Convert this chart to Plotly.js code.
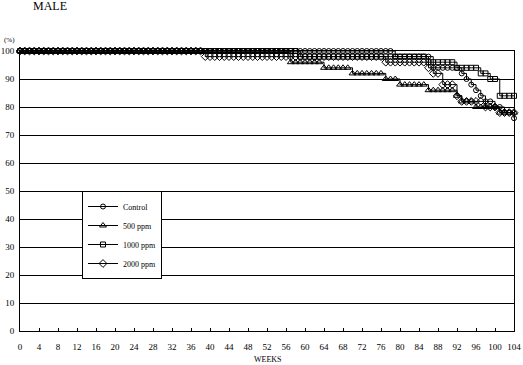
<!DOCTYPE html>
<html>
<head>
<meta charset="utf-8">
<script src="https://cdn.plot.ly/plotly-3.0.1.min.js"></script>
<style>html,body{margin:0;padding:0;background:#fff;}#chart{width:523px;height:365px;}</style>
</head>
<body>
<div id="chart"></div>
<script>
// Weeks 0..104
var weeks = [];
for (var w = 0; w <= 104; w++) weeks.push(w);

var xTickVals = [0,4,8,12,16,20,24,28,32,36,40,44,48,52,56,60,64,68,72,76,80,84,88,92,96,100,104];
var xTickText = ["0","4","8","12","16","20","24","28","32","36","40","44","48","52","56","60","64","68","72","76","80","84","88","92","96","100","104"];
var yTickVals = [0,10,20,30,40,50,60,70,80,90,100];
var seriesNames = ["Control", "500 ppm", "1000 ppm", "2000 ppm"];

// Survival (%) at each week
var control = [
 100,100,100,100,100,100,100,100,100,100, 100,100,100,100,100,100,100,100,100,100,
 100,100,100,100,100,100,100,100,100,100, 100,100,100,100,100,100,100,100,100,100,
 100,100,100,100,100,100,100,100,100,100, 100,100,100,100,100,100,100,100,100,100,
 100,100,100,100,100,100,100,100,100,100, 100,100,100,100,100,100,100,100,100,98,
 98,98,98,98,98,98,98,94,94,94, 94,94,94,92,90,88,86,84,82,82,
 80,80,78,78,76];
var ppm500 = [
 100,100,100,100,100,100,100,100,100,100, 100,100,100,100,100,100,100,100,100,100,
 100,100,100,100,100,100,100,100,100,100, 100,100,100,100,100,100,100,100,100,100,
 100,100,100,100,100,100,100,100,100,100, 100,100,100,100,100,100,100,96,96,96,
 96,96,96,96,94,94,94,94,94,94, 92,92,92,92,92,92,92,90,90,90,
 88,88,88,88,88,88,86,86,86,86, 86,86,84,82,82,82,80,80,80,80,
 80,78,78,78,78];
var ppm1000 = [
 100,100,100,100,100,100,100,100,100,100, 100,100,100,100,100,100,100,100,100,100,
 100,100,100,100,100,100,100,100,100,100, 100,100,100,100,100,100,100,100,100,100,
 100,100,100,100,100,100,100,100,100,100, 100,100,100,100,100,100,100,100,100,98,
 98,98,98,98,98,98,98,98,98,98, 98,98,98,98,98,98,98,98,98,98,
 98,98,98,98,98,98,96,96,96,96, 96,96,94,94,94,94,94,92,92,90,
 90,84,84,84,84];
var ppm2000 = [
 100,100,100,100,100,100,100,100,100,100, 100,100,100,100,100,100,100,100,100,100,
 100,100,100,100,100,100,100,100,100,100, 100,100,100,100,100,100,100,100,100,98,
 98,98,98,98,98,98,98,98,98,98, 98,98,98,98,98,98,98,98,98,98,
 98,98,98,98,98,98,98,98,98,98, 98,98,98,98,98,98,98,96,96,96,
 96,96,96,96,96,96,94,92,92,88, 88,88,84,82,82,82,82,82,80,80,
 80,78,78,78,78];

var symbols = ["circle-open", "triangle-up-open", "square-open", "diamond-open"];
var sizes = [5, 6, 5, 6];
var values = [control, ppm500, ppm1000, ppm2000];

var traces = values.map(function (v, i) {
  return {
    x: weeks, y: v, name: seriesNames[i], type: "scatter", mode: "lines+markers",
    line: {shape: "hv", color: "#000", width: 1},
    marker: {symbol: symbols[i], size: sizes[i], color: "#000", line: {width: 1, color: "#000"}},
    cliponaxis: false
  };
});

var fontFam = "Liberation Serif, DejaVu Serif, serif";
var layout = {
  width: 523, height: 365,
  margin: {l: 20, r: 9, t: 51, b: 34, pad: 0},
  paper_bgcolor: "#fff", plot_bgcolor: "#fff",
  font: {family: fontFam, size: 9, color: "#000"},
  showlegend: true,
  legend: {
    x: 0.1255, y: 0.5, xanchor: "left", yanchor: "top",
    bgcolor: "#fff", bordercolor: "#000", borderwidth: 1,
    font: {family: fontFam, size: 8, color: "#000"},
    tracegroupgap: 0, itemwidth: 30
  },
  xaxis: {
    range: [0, 104], tickmode: "array", tickvals: xTickVals, ticktext: xTickText,
    ticks: "inside", ticklen: 3, tickcolor: "#000", tickwidth: 1,
    showline: true, linecolor: "#000", linewidth: 1, mirror: true,
    showgrid: false, zeroline: false, ticklabelstandoff: 7,
    tickfont: {family: fontFam, size: 9, color: "#000"}, fixedrange: true
  },
  yaxis: {
    range: [0, 100], tickmode: "array", tickvals: yTickVals,
    ticks: "", showline: true, linecolor: "#000", linewidth: 1, mirror: true,
    showgrid: true, gridcolor: "#000", gridwidth: 1, zeroline: false,
    ticklabelstandoff: 3,
    tickfont: {family: fontFam, size: 9, color: "#000"}, fixedrange: true
  },
  annotations: [
    {text: "MALE", xref: "paper", yref: "paper", x: 0.061, y: 1.16, xanchor: "center", yanchor: "middle",
     showarrow: false, font: {family: fontFam, size: 12, color: "#000"}},
    {text: "(%)", xref: "paper", yref: "paper", x: -0.021, y: 1.04, xanchor: "center", yanchor: "middle",
     showarrow: false, font: {family: fontFam, size: 7, color: "#000"}},
    {text: "WEEKS", xref: "paper", yref: "paper", x: 0.502, y: -0.1, xanchor: "center", yanchor: "middle",
     showarrow: false, font: {family: fontFam, size: 8, color: "#000"}}
  ]
};

Plotly.newPlot("chart", traces, layout, {displayModeBar: false, staticPlot: true});
</script>
</body>
</html>
